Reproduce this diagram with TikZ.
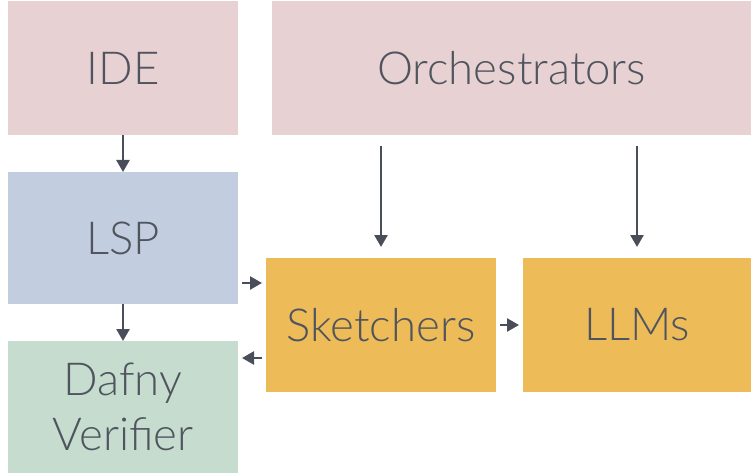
\documentclass[tikz,border=0pt]{standalone}
\usepackage{fontspec}
\setmainfont{Lato}[UprightFont=* Light]
\usetikzlibrary{arrows.meta}
\definecolor{pinkbox}{HTML}{E8D1D2}
\definecolor{bluebox}{HTML}{C2CDDF}
\definecolor{greenbox}{HTML}{C5DCCE}
\definecolor{orangebox}{HTML}{EDBB57}
\definecolor{ink}{HTML}{4A4E5A}
\definecolor{txt}{HTML}{4F545E}
\tikzset{
  block/.style={inner sep=0pt, outer sep=0pt, text=txt,
    font=\fontsize{45.5}{55}\selectfont, align=center},
  arr/.style={draw=ink, line width=2.5pt,
    -{Triangle[width=13pt,length=12pt]}},
}
\begin{document}
\begin{tikzpicture}[x=1pt,y=-1pt]
  \useasboundingbox (0,0) rectangle (751,473);
  % boxes
  \node[block, fill=pinkbox, minimum width=230pt, minimum height=134pt] (ide) at (123,68) {IDE};
  \node[block, fill=pinkbox, minimum width=479pt, minimum height=134pt] (orch) at (511.5,68) {Orchestrators};
  \node[block, fill=bluebox, minimum width=230pt, minimum height=132pt] (lsp) at (123,238) {LSP};
  \node[block, fill=greenbox, minimum width=230pt, minimum height=132pt] (dafny) at (123,407) {Dafny\\Verifier};
  \node[block, fill=orangebox, minimum width=230pt, minimum height=134pt] (sk) at (381,325) {Sketchers};
  \node[block, fill=orangebox, minimum width=228pt, minimum height=134pt] (llm) at (637,325) {LLMs};
  % connectors
  \draw[arr] (ide) -- (lsp);
  \draw[arr] (lsp) -- (dafny);
  \draw[arr, shorten <=11pt, shorten >=11pt] (orch.south -| sk.north) -- (sk.north);
  \draw[arr, shorten <=11pt, shorten >=11pt] (orch.south -| llm.north) -- (llm.north);
  \coordinate (inpt) at ([yshift=-25pt]sk.north west);
  \coordinate (outpt) at ([yshift=-100pt]sk.north west);
  \draw[arr, shorten <=4pt, shorten >=4pt] (inpt -| lsp.east) -- (inpt);
  \draw[arr, shorten <=4pt, shorten >=4pt] (outpt) -- (outpt -| dafny.east);
  \draw[arr, shorten <=4pt, shorten >=4pt] (sk) -- (llm);
\end{tikzpicture}
\end{document}
